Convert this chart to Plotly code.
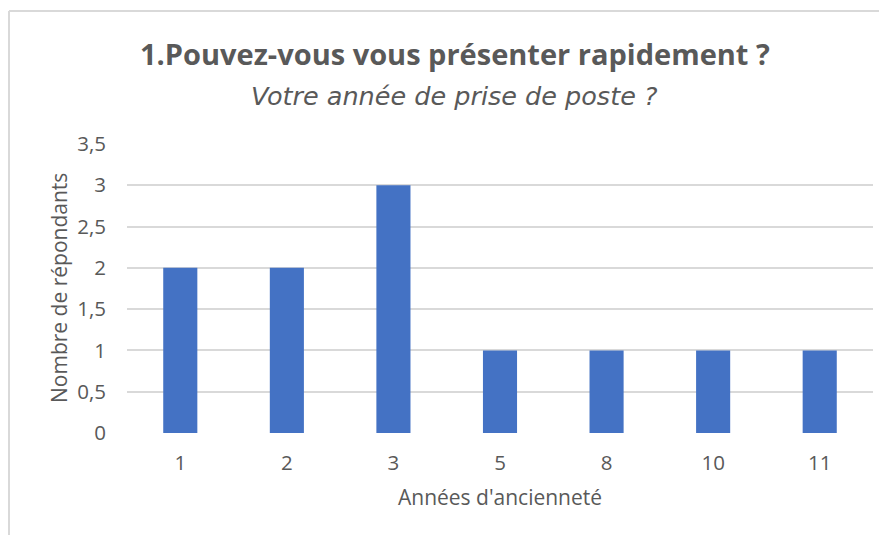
import plotly.graph_objects as go

# data
annees = ["1", "2", "3", "5", "8", "10", "11"]
repondants = [2, 2, 3, 1, 1, 1, 1]
y_ticks = [0, 0.5, 1, 1.5, 2, 2.5, 3, 3.5]
y_tick_labels = ["0", "0,5", "1", "1,5", "2", "2,5", "3", "3,5"]

GRAY = "#595959"
FONT = "Open Sans"

# the page body adds an 8px margin, so the figure is drawn 8px smaller
OFF = 8
W, H = 887 - OFF, 535 - OFF
# plot area in screenshot pixels: x 127..873, y 144..433
L, R, T, B = 127 - OFF, 887 - 873, 144 - OFF, 535 - 433
pw, ph = W - L - R, H - T - B


def px_x(px):
    return (px - OFF - L) / pw


def px_y(py):
    return (H - B - (py - OFF)) / ph


def label(text, x, y, size, family=FONT, angle=0):
    return dict(text=text, x=px_x(x), y=px_y(y), xref="paper", yref="paper",
                xanchor="center", yanchor="middle", textangle=angle,
                showarrow=False, font=dict(size=size, color=GRAY, family=family))


fig = go.Figure(go.Bar(
    x=annees,
    y=repondants,
    marker=dict(color="#4472C4", line=dict(width=0)),
))

fig.update_layout(
    width=W, height=H,
    margin=dict(l=L, r=R, t=T, b=B, autoexpand=False),
    paper_bgcolor="white", plot_bgcolor="white",
    showlegend=False,
    bargap=0.68,
    font=dict(family=FONT, color=GRAY),
    xaxis=dict(
        type="category", showgrid=False, zeroline=False, showline=False,
        ticks="", tickfont=dict(size=20.5, color=GRAY), ticklabelstandoff=15,
    ),
    yaxis=dict(
        range=[0, 3.5], tickvals=y_ticks, ticktext=y_tick_labels,
        showgrid=True, gridcolor="#d9d9d9", gridwidth=1.5,
        zeroline=False, showline=False, ticks="",
        tickfont=dict(size=20.5, color=GRAY), ticklabelstandoff=20,
    ),
    annotations=[
        label("<b>1.Pouvez-vous vous présenter rapidement ?</b>", 455, 53, 29),
        label("<i>Votre année de prise de poste ?</i>", 454, 96, 25.5,
              family="DejaVu Sans"),
        label("Nombre de répondants", 59, 288, 21, angle=-90),
        label("Années d'ancienneté", 500, 497, 21),
    ],
    shapes=[
        dict(type="line", xref="paper", yref="paper",
             x0=px_x(9), x1=px_x(900), y0=px_y(11), y1=px_y(11),
             line=dict(color="#d9d9d9", width=2)),
        dict(type="line", xref="paper", yref="paper",
             x0=px_x(9), x1=px_x(9), y0=px_y(11), y1=px_y(560),
             line=dict(color="#d9d9d9", width=2)),
    ],
)

fig.write_html("out.html")
